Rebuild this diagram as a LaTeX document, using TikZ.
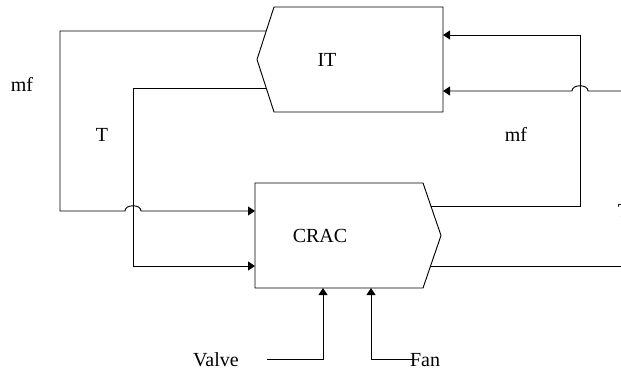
\documentclass[tikz,border=0pt]{standalone}
\usepackage{fontspec}
\setmainfont{Liberation Serif}
\usetikzlibrary{arrows.meta}
\tikzset{
  wire/.style={draw=black, line width=0.7pt},
  arr/.style={wire, -{Triangle[length=5.25pt,width=6.75pt]}},
  blockshape/.style={draw=black, line width=0.7pt, fill=white},
  lbl/.style={anchor=base, inner sep=0pt, font=\fontsize{15}{18}\selectfont},
}
\begin{document}
\begin{tikzpicture}[x=0.75pt, y=-0.75pt]
\useasboundingbox (0,0) rectangle (621,372);
% IT block (pointer to the left)
\coordinate (itTL) at (274,7);
\coordinate (itTR) at (443,7);
\coordinate (itBR) at (443,112);
\coordinate (itBL) at (274,112);
\coordinate (itTip) at (257,59.5);
\draw[blockshape] (itTL) -- (itTR) -- (itBR) -- (itBL) -- (itTip) -- cycle;
% CRAC block (pointer to the right)
\coordinate (crTL) at (255,183);
\coordinate (crTR) at (423,183);
\coordinate (crTip) at (441,235.5);
\coordinate (crBR) at (423,288);
\coordinate (crBL) at (255,288);
\draw[blockshape] (crTL) -- (crTR) -- (crTip) -- (crBR) -- (crBL) -- cycle;

% ports
\coordinate (itOutA) at (266.2,31);
\coordinate (itOutB) at (266.2,88);
\coordinate (itInA) at (443,35);
\coordinate (itInB) at (443,91);
\coordinate (crInA) at (255,211);
\coordinate (crInB) at (255,266);
\coordinate (crOutA) at (430.9,206);
\coordinate (crOutB) at (430.5,266);
\coordinate (crInV) at (323,288);
\coordinate (crInF) at (371,288);
% free ends / bends
\coordinate (mfL) at (60,31);
\coordinate (tL) at (133,88);
\coordinate (mfR) at (580,206);
\coordinate (rightIn) at (621,91);
\coordinate (rightOut) at (621,266);
\coordinate (valveEnd) at (267,359);
\coordinate (fanEnd) at (413,359);

% mf : IT -> CRAC (with jump over T wire)
\draw[arr] (itOutA) -- (mfL) -- (60,211) -- (125,211)
  .. controls (125,204) and (141,204) .. (141,211) -- (crInA);
% T : IT -> CRAC
\draw[arr] (itOutB) -- (tL) |- (crInB);
% mf : CRAC -> IT
\draw[arr] (crOutA) -- (mfR) |- (itInA);
% external input into IT (with jump)
\draw[arr] (rightIn) -- (588,91)
  .. controls (588,84) and (572,84) .. (572,91) -- (itInB);
% CRAC output to the right
\draw[wire] (crOutB) -- (rightOut);
% Valve and Fan
\draw[arr] (valveEnd) -| (crInV);
\draw[arr] (fanEnd) -| (crInF);

% labels
\node[lbl] (tIT) at (327,66) {IT};
\node[lbl] (tCRAC) at (320,242) {CRAC};
\node[lbl] (tmfL) at (22,91) {mf};
\node[lbl] (tTL) at (102,141) {T};
\node[lbl] (tmfR) at (516,141) {mf};
\node[lbl] (tTR) at (624,217) {T};
\node[lbl] (tValve) at (216,366) {Valve};
\node[lbl] (tFan) at (425,366) {Fan};
\end{tikzpicture}
\end{document}
